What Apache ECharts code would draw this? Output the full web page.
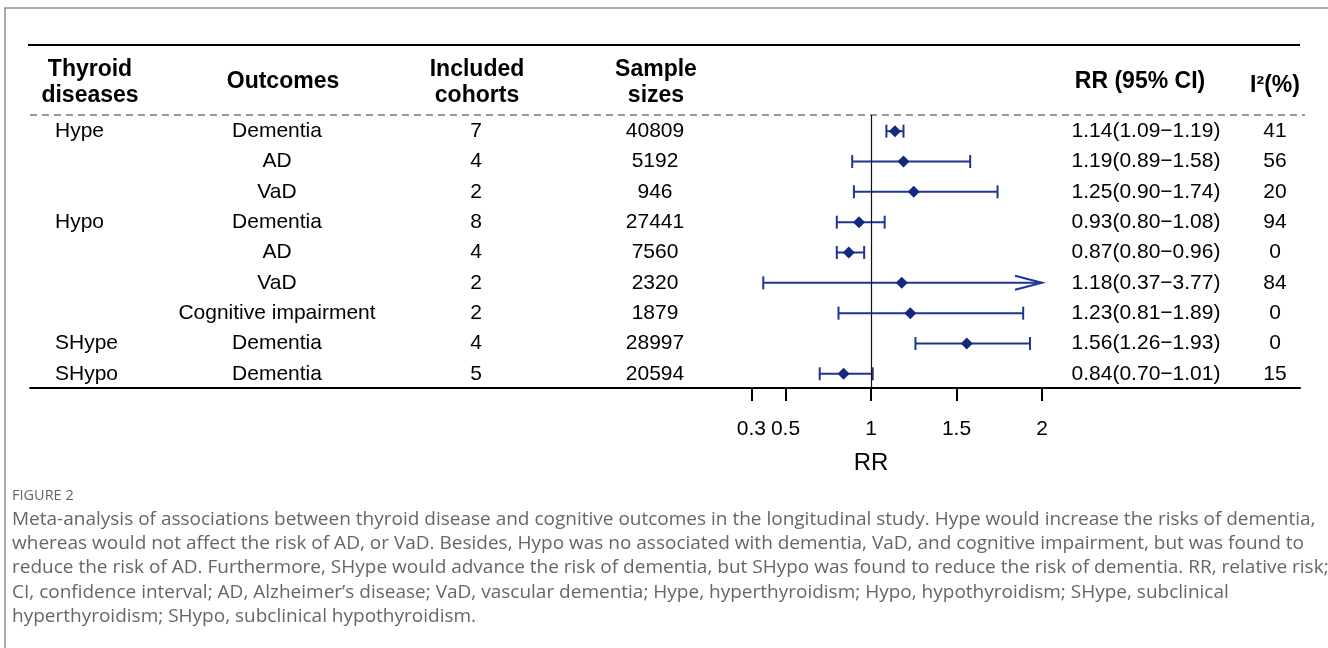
<!DOCTYPE html>
<html>
<head>
<meta charset="utf-8">
<script src="https://cdn.jsdelivr.net/npm/echarts@6/dist/echarts.min.js"></script>
<style>
html,body{margin:0;padding:0;background:#fff;}
#c{width:1328px;height:648px;}
</style>
</head>
<body>
<div id="c"></div>
<script>
// ---------------- data ----------------
const diseases = ['Hype', '', '', 'Hypo', '', '', '', 'SHype', 'SHypo'];
const outcomes = ['Dementia', 'AD', 'VaD', 'Dementia', 'AD', 'VaD', 'Cognitive impairment', 'Dementia', 'Dementia'];
const cohorts = [7, 4, 2, 8, 4, 2, 2, 4, 5];
const samples = [40809, 5192, 946, 27441, 7560, 2320, 1879, 28997, 20594];
const rr = [1.14, 1.19, 1.25, 0.93, 0.87, 1.18, 1.23, 1.56, 0.84];
const lower = [1.09, 0.89, 0.90, 0.80, 0.80, 0.37, 0.81, 1.26, 0.70];
const upper = [1.19, 1.58, 1.74, 1.08, 0.96, 3.77, 1.89, 1.93, 1.01];
const i2 = [41, 56, 20, 94, 0, 84, 0, 0, 15];
const xTicks = [0.3, 0.5, 1, 1.5, 2];
const xClip = 2;          // CI drawn up to this value, arrow beyond
const refValue = 1;
const axisTitle = 'RR';
const headers = [
  { key: 'disease', lines: ['Thyroid', 'diseases'] },
  { key: 'outcome', lines: ['Outcomes'] },
  { key: 'cohort', lines: ['Included', 'cohorts'] },
  { key: 'sample', lines: ['Sample', 'sizes'] },
  { key: 'ci', lines: ['RR (95% CI)'] },
  { key: 'i2', lines: ['I\u00B2(%)'] }
];
const figureLabel = 'FIGURE 2';
const captionLines = [
  'Meta-analysis of associations between thyroid disease and cognitive outcomes in the longitudinal study. Hype would increase the risks of dementia,',
  'whereas would not affect the risk of AD, or VaD. Besides, Hypo was no associated with dementia, VaD, and cognitive impairment, but was found to',
  'reduce the risk of AD. Furthermore, SHype would advance the risk of dementia, but SHypo was found to reduce the risk of dementia. RR, relative risk;',
  'CI, confidence interval; AD, Alzheimer\u2019s disease; VaD, vascular dementia; Hype, hyperthyroidism; Hypo, hypothyroidism; SHype, subclinical',
  'hyperthyroidism; SHypo, subclinical hypothyroidism.'
];

// ---------------- layout ----------------
const FONT = '"Liberation Sans", Arial, Helvetica, sans-serif';
const CAP_FONT = '"Open Sans", "Noto Sans", sans-serif';
const LINE_COLOR = '#1f3594';
const DIAMOND_COLOR = '#13297f';
const colX = { disease: 55, outcome: 277, cohort: 476, sample: 655, ci: 1146, i2: 1275 };
const headerX = { disease: 90, outcome: 283, cohort: 477, sample: 656, ci: 1140, i2: 1275 };
const gridLeft = 30, gridRight = 28, gridTop = 115, gridBottom = 260;
const pxPerUnit = 171, refPx = 871;
const xMin = refValue - (refPx - gridLeft) / pxPerUnit;
const xMax = xMin + (1328 - gridLeft - gridRight) / pxPerUnit;

const rowIdx = outcomes.map((_, i) => i);
const ciText = rr.map((v, i) => v.toFixed(2) + '(' + lower[i].toFixed(2) + '\u2212' + upper[i].toFixed(2) + ')');

const chart = echarts.init(document.getElementById('c'), null, { renderer: 'canvas' });

function txt(x, y, text, align, font, fill) {
  return { type: 'text', style: { x: x, y: y, text: text, align: align, verticalAlign: 'middle', font: font, fill: fill || '#000' } };
}

function renderTable(params, api) {
  const i = api.value(1);
  const y = api.coord([refValue, i])[1] + 1;
  const f = '21px ' + FONT;
  return {
    type: 'group',
    children: [
      txt(colX.disease, y, diseases[i], 'left', f),
      txt(colX.outcome, y, outcomes[i], 'center', f),
      txt(colX.cohort, y, String(cohorts[i]), 'center', f),
      txt(colX.sample, y, String(samples[i]), 'center', f),
      txt(colX.ci, y, ciText[i], 'center', f),
      txt(colX.i2, y, String(i2[i]), 'center', f)
    ]
  };
}

function renderCI(params, api) {
  const lo = api.value(0), hi = api.value(1), est = api.value(2), i = api.value(3);
  const pLo = api.coord([lo, i]);
  const y = pLo[1] + 1;
  const clipped = hi > xClip;
  const xHi = api.coord([Math.min(hi, xClip), i])[0];
  const xEst = api.coord([est, i])[0];
  const xLo = pLo[0];
  const ls = { stroke: LINE_COLOR, lineWidth: 2, fill: null };
  const ch = 6.5;
  const children = [
    { type: 'line', shape: { x1: xLo, y1: y, x2: xHi, y2: y }, style: ls },
    { type: 'line', shape: { x1: xLo, y1: y - ch, x2: xLo, y2: y + ch }, style: ls }
  ];
  if (clipped) {
    children.push({ type: 'polyline', shape: { points: [[xHi - 27, y - 7], [xHi, y], [xHi - 27, y + 7]] }, style: ls });
  } else {
    children.push({ type: 'line', shape: { x1: xHi, y1: y - ch, x2: xHi, y2: y + ch }, style: ls });
  }
  const d = 6;
  children.push({
    type: 'polygon',
    shape: { points: [[xEst - d, y], [xEst, y - d], [xEst + d, y], [xEst, y + d]] },
    style: { fill: DIAMOND_COLOR, stroke: null }
  });
  return { type: 'group', children: children };
}

// header / frame graphics
const graphics = [
  { type: 'rect', shape: { x: 5, y: 8, width: 1400, height: 700 }, style: { fill: null, stroke: '#8f8f8f', lineWidth: 1.5 }, silent: true },
  { type: 'line', shape: { x1: 28, y1: 45, x2: 1300, y2: 45 }, style: { stroke: '#000', lineWidth: 2 }, silent: true },
  { type: 'line', shape: { x1: 30, y1: 115, x2: 1305, y2: 115 }, style: { stroke: '#333', lineWidth: 1.2, lineDash: [7, 5] }, silent: true }
];
headers.forEach(h => {
  const hf = 'bold 23px ' + FONT;
  if (h.lines.length === 2) {
    graphics.push({ type: 'text', silent: true, style: { x: headerX[h.key], y: 70, text: h.lines[0], align: 'center', verticalAlign: 'middle', font: hf, fill: '#000' } });
    graphics.push({ type: 'text', silent: true, style: { x: headerX[h.key], y: 96, text: h.lines[1], align: 'center', verticalAlign: 'middle', font: hf, fill: '#000' } });
  } else {
    graphics.push({ type: 'text', silent: true, style: { x: headerX[h.key], y: h.key === 'i2' ? 86 : 82, text: h.lines[0], align: 'center', verticalAlign: 'middle', font: hf, fill: '#000' } });
  }
});
graphics.push({ type: 'text', silent: true, style: { x: 12, y: 496, text: figureLabel, align: 'left', verticalAlign: 'middle', font: '14.5px ' + CAP_FONT, fill: '#666' } });
graphics.push({ type: 'text', silent: true, style: { x: 12, y: 507, text: captionLines.join('\n'), align: 'left', verticalAlign: 'top', font: '19px ' + CAP_FONT, lineHeight: 24.4, fill: '#666' } });

const option = {
  animation: false,
  backgroundColor: '#fff',
  grid: { left: gridLeft, right: gridRight, top: gridTop, bottom: gridBottom, containLabel: false },
  xAxis: {
    type: 'value', min: xMin, max: xMax,
    splitLine: { show: false },
    axisLine: { show: true, lineStyle: { color: '#000', width: 2 } },
    axisTick: { show: true, length: 13, customValues: xTicks, lineStyle: { color: '#000', width: 2 } },
    axisLabel: { show: true, customValues: xTicks, margin: 31, fontSize: 21, fontFamily: FONT, color: '#000', formatter: v => String(v) }
  },
  yAxis: {
    type: 'category', inverse: true, data: rowIdx.map(String), show: false,
    axisLine: { show: false }, axisTick: { show: false }, axisLabel: { show: false }, splitLine: { show: false }
  },
  graphic: graphics,
  series: [
    {
      type: 'scatter', data: [], silent: true, z: 1,
      markLine: {
        silent: true, symbol: 'none', animation: false,
        label: { show: false },
        lineStyle: { color: '#111', width: 1.2, type: 'solid' },
        data: [{ xAxis: refValue }]
      }
    },
    {
      type: 'custom', z: 3, silent: true,
      renderItem: renderCI,
      encode: { x: [0, 1, 2], y: 3 },
      data: rowIdx.map(i => [lower[i], upper[i], rr[i], i])
    },
    {
      type: 'custom', z: 3, silent: true,
      renderItem: renderTable,
      encode: { x: 0, y: 1 },
      data: rowIdx.map(i => [refValue, i])
    }
  ]
};
chart.setOption(option);

const px = chart.convertToPixel({ xAxisIndex: 0 }, refValue);
graphics.push({ type: 'text', silent: true, style: { x: px, y: 463, text: axisTitle, align: 'center', verticalAlign: 'middle', font: '24px ' + FONT, fill: '#000' } });
chart.setOption({ graphic: graphics });
</script>
</body>
</html>
